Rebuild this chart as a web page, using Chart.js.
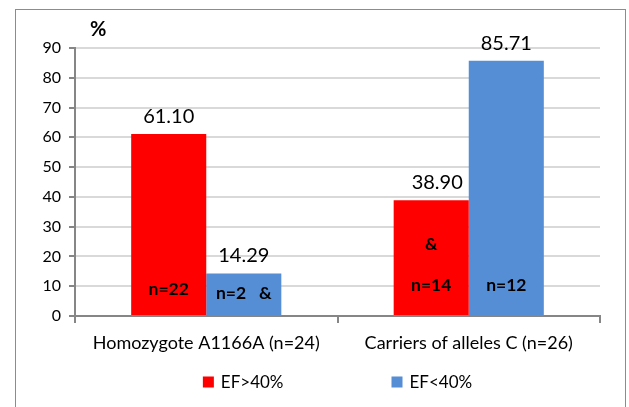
<!DOCTYPE html>
<html>
<head>
<meta charset="utf-8">
<script src="https://cdn.jsdelivr.net/npm/chart.js@4"></script>
<style>
  html, body { margin: 0; padding: 0; background: #ffffff; }
  #wrap { width: 629px; height: 407px; position: relative; }
</style>
</head>
<body>
<div id="wrap"><canvas id="c" width="629" height="407"></canvas></div>
<script>
// Ejection fraction split by AT1R A1166C genotype
const categories = ['Homozygote A1166A (n=24)', 'Carriers of alleles C (n=26)'];
const seriesNames = ['EF>40%', 'EF<40%'];
const efAbove40 = [61.10, 38.90];
const efBelow40 = [14.29, 85.71];
const countsAbove40 = ['n=22', 'n=14'];
const countsBelow40 = ['n=2   &', 'n=12'];
const marksAbove40 = ['', '&'];
const marksBelow40 = ['', ''];
const yTickValues = [0, 10, 20, 30, 40, 50, 60, 70, 80, 90];
const yUnit = '%';

const FONT = 'Lato, "Open Sans", sans-serif';
const RED = '#ff0000';
const BLUE = '#558ed5';
const AXIS = '#868686';
const GRID = '#d9d9d9';

// frame, value labels, counts, unit and legend
const decorations = {
  id: 'decorations',
  beforeDraw(chart) {
    const ctx = chart.ctx;
    ctx.save();
    ctx.fillStyle = '#ffffff';
    ctx.fillRect(0, 0, chart.width, chart.height);
    ctx.strokeStyle = '#8c8c8c';
    ctx.lineWidth = 1;
    ctx.strokeRect(15.5, 9.5, 610, 420);
    ctx.restore();
  },
  afterDatasetsDraw(chart) {
    const ctx = chart.ctx;
    const counts = [countsAbove40, countsBelow40];
    const marks = [marksAbove40, marksBelow40];
    const countLift = [[20, 24], [16, 24]];
    const valueShift = [[0, 6], [0, 0]];
    ctx.save();
    chart.data.datasets.forEach((ds, di) => {
      const meta = chart.getDatasetMeta(di);
      meta.data.forEach((bar, i) => {
        const v = ds.data[i];
        ctx.fillStyle = '#000000';
        ctx.textAlign = 'center';
        ctx.textBaseline = 'alphabetic';
        ctx.font = '20px ' + FONT;
        ctx.fillText(v.toFixed(2), bar.x + valueShift[di][i], bar.y - 11);
        ctx.font = 'bold 17.5px ' + FONT;
        ctx.fillText(counts[di][i], bar.x, bar.base - countLift[di][i]);
        if (marks[di][i]) {
          ctx.fillText(marks[di][i], bar.x, bar.base - 65);
        }
      });
    });
    // unit above the value axis
    const ys = chart.scales.y;
    ctx.font = 'bold 20px ' + FONT;
    ctx.textAlign = 'left';
    ctx.fillText(yUnit, ys.right + 15, 36);

    // legend
    const area = chart.chartArea;
    ctx.font = '17px ' + FONT;
    const box = 11, gapText = 7, gapItems = 108;
    const widths = chart.data.datasets.map(ds => box + gapText + ctx.measureText(ds.label).width);
    const total = widths.reduce((a, b) => a + b, 0) + gapItems * (widths.length - 1);
    let x = (area.left + area.right) / 2 - total / 2;
    const cy = 382;
    chart.data.datasets.forEach((ds, di) => {
      ctx.fillStyle = ds.backgroundColor;
      ctx.fillRect(x, cy - box / 2, box, box);
      ctx.fillStyle = '#000000';
      ctx.textBaseline = 'middle';
      ctx.fillText(ds.label, x + box + gapText, cy + 1);
      x += widths[di] + gapItems;
    });
    ctx.restore();
  }
};

new Chart(document.getElementById('c'), {
  type: 'bar',
  data: {
    labels: categories,
    datasets: [
      { label: seriesNames[0], data: efAbove40, backgroundColor: RED },
      { label: seriesNames[1], data: efBelow40, backgroundColor: BLUE }
    ]
  },
  options: {
    responsive: false,
    devicePixelRatio: 1,
    animation: false,
    events: [],
    layout: { padding: { left: 0, right: 29, top: 48, bottom: 0 } },
    datasets: { bar: { categoryPercentage: 0.572, barPercentage: 1.0 } },
    plugins: {
      legend: { display: false },
      tooltip: { enabled: false }
    },
    scales: {
      x: {
        offset: true,
        grid: {
          display: true, offset: true, drawOnChartArea: false, drawTicks: true,
          tickLength: 7, color: AXIS, lineWidth: 2
        },
        border: { color: AXIS, width: 2 },
        ticks: { color: '#000000', font: { family: FONT, size: 18 }, padding: 9, maxRotation: 0 },
        afterFit(s) { s.height = 91; }
      },
      y: {
        min: 0, max: 90,
        afterBuildTicks(s) { s.ticks = yTickValues.map(v => ({ value: v })); },
        grid: { color: GRID, lineWidth: 2, tickColor: AXIS, tickLength: 6 },
        border: { color: AXIS, width: 2 },
        ticks: { color: '#000000', font: { family: FONT, size: 16 }, padding: 8 },
        afterFit(s) { s.width = 75; }
      }
    }
  },
  plugins: [decorations]
});
</script>
</body>
</html>
